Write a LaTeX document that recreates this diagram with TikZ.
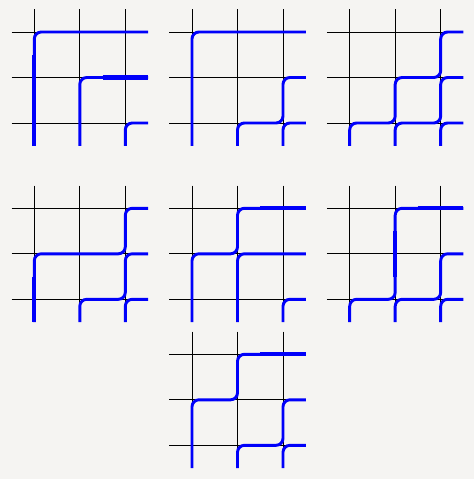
\documentclass[tikz,border=0pt]{standalone}
\definecolor{bgcol}{RGB}{245,244,242}
\definecolor{pipecol}{RGB}{0,0,250}
\tikzset{
  gridline/.style={black, line width=0.7pt},
  pipe/.style={pipecol, line width=2.2pt, rounded corners=5.2pt},
  thickpipe/.style={pipecol, line width=3.1pt},
}
\newcommand{\gridlines}{%
  \foreach \c in {1,2,3}{\draw[gridline] (\c,0.5) -- (\c,3.5);}
  \foreach \r in {1,2,3}{\draw[gridline] (0.5,\r) -- (3.5,\r);}
}
\begin{document}
\begin{tikzpicture}[x=0.75pt,y=-0.75pt]
\fill[bgcol] (0,0) rectangle (474,479);
\useasboundingbox (0,0) rectangle (474,479);
% Panel 1
\begin{scope}[shift={(-11.2,-13.5)},x=34.125pt,y=-34.125pt]
  \gridlines
  \draw[pipe] (1,3.5) -- (1,1) -- (3.5,1);
  \draw[pipe] (2,3.5) -- (2,2) -- (3.5,2);
  \draw[pipe] (3,3.5) -- (3,3) -- (3.5,3);
  \draw[thickpipe] (1,1.5) -- (1,3.5);
  \draw[thickpipe] (2.5,2) -- (3.5,2);
\end{scope}
% Panel 2
\begin{scope}[shift={(146.5,-13.5)},x=34.125pt,y=-34.125pt]
  \gridlines
  \draw[pipe] (1,3.5) -- (1,1) -- (3.5,1);
  \draw[pipe] (2,3.5) -- (2,3) -- (3,3) -- (3,2) -- (3.5,2);
  \draw[pipe] (3,3.5) -- (3,3) -- (3.5,3);
\end{scope}
% Panel 3
\begin{scope}[shift={(304.2,-13.5)},x=34.125pt,y=-34.125pt]
  \gridlines
  \draw[pipe] (1,3.5) -- (1,3) -- (2,3) -- (2,2) -- (3,2) -- (3,1) -- (3.5,1);
  \draw[pipe] (2,3.5) -- (2,3) -- (3,3) -- (3,2) -- (3.5,2);
  \draw[pipe] (3,3.5) -- (3,3) -- (3.5,3);
\end{scope}
% Panel 4
\begin{scope}[shift={(-11.2,162.8)},x=34.125pt,y=-34.125pt]
  \gridlines
  \draw[pipe] (1,3.5) -- (1,2) -- (3,2) -- (3,1) -- (3.5,1);
  \draw[pipe] (2,3.5) -- (2,3) -- (3,3) -- (3,2) -- (3.5,2);
  \draw[pipe] (3,3.5) -- (3,3) -- (3.5,3);
  \draw[thickpipe] (1,2.5) -- (1,3.5);
\end{scope}
% Panel 5
\begin{scope}[shift={(146.5,162.8)},x=34.125pt,y=-34.125pt]
  \gridlines
  \draw[pipe] (1,3.5) -- (1,2) -- (2,2) -- (2,1) -- (3.5,1);
  \draw[pipe] (2,3.5) -- (2,2) -- (3.5,2);
  \draw[pipe] (3,3.5) -- (3,3) -- (3.5,3);
  \draw[thickpipe] (2.5,1) -- (3.5,1);
\end{scope}
% Panel 6
\begin{scope}[shift={(304.2,162.8)},x=34.125pt,y=-34.125pt]
  \gridlines
  \draw[pipe] (1,3.5) -- (1,3) -- (2,3) -- (2,1) -- (3.5,1);
  \draw[pipe] (2,3.5) -- (2,3) -- (3,3) -- (3,2) -- (3.5,2);
  \draw[pipe] (3,3.5) -- (3,3) -- (3.5,3);
  \draw[thickpipe] (2.5,1) -- (3.5,1);
  \draw[thickpipe] (2,1.5) -- (2,2.5);
\end{scope}
% Panel 7
\begin{scope}[shift={(146.5,308.8)},x=34.125pt,y=-34.125pt]
  \gridlines
  \draw[pipe] (1,3.5) -- (1,2) -- (2,2) -- (2,1) -- (3.5,1);
  \draw[pipe] (2,3.5) -- (2,3) -- (3,3) -- (3,2) -- (3.5,2);
  \draw[pipe] (3,3.5) -- (3,3) -- (3.5,3);
  \draw[thickpipe] (2.5,1) -- (3.5,1);
\end{scope}
\end{tikzpicture}
\end{document}
